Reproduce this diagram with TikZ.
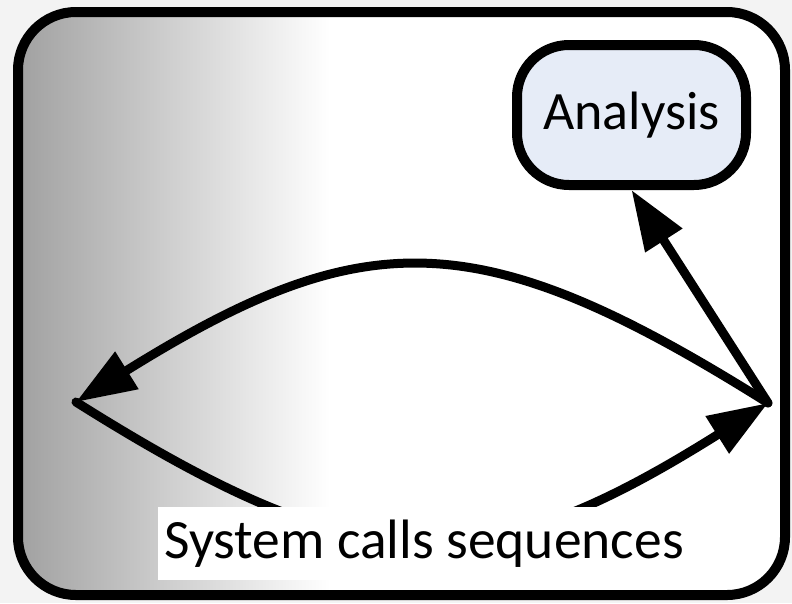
\documentclass[tikz,border=0pt]{standalone}
\usepackage{fontspec}
\setmainfont{Carlito}
\usetikzlibrary{arrows.meta}

\definecolor{bgcol}{RGB}{243,243,243}
\definecolor{anafill}{RGB}{230,236,247}

\begin{document}
\begin{tikzpicture}
  [x=1pt,y=-1pt,line width=9pt,line cap=round,
   big/.style={-{Triangle[length=60pt,width=42pt]}},
   anabox/.style={draw,fill=anafill,line width=10pt,rounded corners=52pt,
     minimum width=229pt,minimum height=140pt,inner sep=0pt,
     font=\fontsize{54}{60}\selectfont},
   seqbox/.style={fill=white,minimum width=532pt,minimum height=73pt,inner sep=0pt,
     font=\fontsize{55.5}{62}\selectfont}]
  \fill[bgcol] (0,0) rectangle (792,603);
  \useasboundingbox (0,0) rectangle (792,603);

  % frame with the grey fade on the left
  \begin{scope}
    \clip[rounded corners=58pt] (18,12) rectangle (785,595);
    \fill[white] (18,12) rectangle (785,595);
    \shade[left color=black!37,right color=white] (18,12) rectangle (330,595);
  \end{scope}
  \draw[line width=10pt,rounded corners=58pt] (18,12) rectangle (785,595);

  \node [anabox] (analysis) at (631.5,115) {Analysis};
  \coordinate (L) at (76,402);
  \coordinate (R) at (768,403);

  \draw [big] (R) .. controls (480,222) and (365,222) .. (L);
  \draw [big] (L) .. controls (365,584) and (480,584) .. (R);
  \draw [big] (R) -- (analysis.south);

  \node [seqbox] (seq) at (424,543.5) {System calls sequences};

\end{tikzpicture}
\end{document}
